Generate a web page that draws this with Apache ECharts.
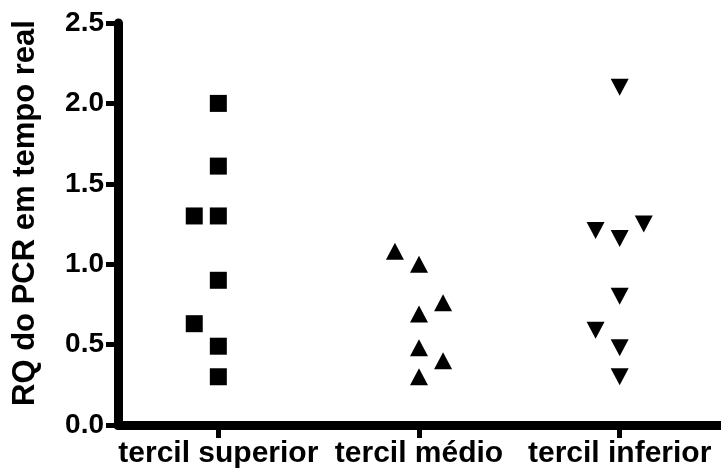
<!DOCTYPE html>
<html>
<head>
<meta charset="utf-8">
<script src="https://cdn.jsdelivr.net/npm/echarts@6/dist/echarts.min.js"></script>
<style>
  html, body { margin: 0; padding: 0; background: #fff; }
  #chart { width: 721px; height: 471px; }
</style>
</head>
<body>
<div id="chart"></div>
<script>
// Groups along the x axis (plotted at positions 1, 2, 3)
const categories = ['tercil superior', 'tercil médio', 'tercil inferior'];
const yTicks = [0.0, 0.5, 1.0, 1.5, 2.0, 2.5];

// Each point: [x position (group index + horizontal spread), RQ value]
const superior = [
  [1.00, 2.00], [1.00, 1.61], [0.88, 1.30], [1.00, 1.30],
  [1.00, 0.90], [0.88, 0.63], [1.00, 0.49], [1.00, 0.30]
];
const medio = [
  [1.88, 1.08], [2.00, 1.00], [2.12, 0.76], [2.00, 0.69],
  [2.00, 0.48], [2.12, 0.40], [2.00, 0.30]
];
const inferior = [
  [3.00, 2.10], [2.88, 1.21], [3.00, 1.16], [3.12, 1.25],
  [3.00, 0.80], [2.88, 0.59], [3.00, 0.48], [3.00, 0.30]
];

const FONT = '"Liberation Sans", Arial, sans-serif';
const chart = echarts.init(document.getElementById('chart'), null, { renderer: 'canvas' });

const black = { color: '#000', opacity: 1 };
// axis lines only show their inner half, hence the doubled width
const lineStroke = { color: '#000', width: 9, opacity: 1, type: 'solid' };
const tickStroke = { color: '#000', width: 5, opacity: 1, type: 'solid' };

chart.setOption({
  animation: false,
  backgroundColor: '#ffffff',
  grid: { left: 118, top: 23, width: 602, height: 402, containLabel: false },
  xAxis: [
    {
      // visible group axis: one band per tercile, tick at band centre
      type: 'category',
      data: categories,
      boundaryGap: true,
      splitLine: { show: false },
      axisLine: { show: true, lineStyle: lineStroke },
      axisTick: {
        show: true, length: 13, alignWithLabel: true, interval: 0,
        lineStyle: tickStroke
      },
      axisLabel: {
        interval: 0,
        color: '#000', fontFamily: FONT, fontWeight: 'bold', fontSize: 30,
        margin: 14
      }
    },
    {
      // hidden numeric axis used to place the spread points
      type: 'value',
      min: 0.5,
      max: 3.5,
      show: false
    }
  ],
  yAxis: {
    type: 'value',
    min: 0,
    max: 2.5,
    interval: 0.5,
    name: 'RQ do PCR em tempo real',
    nameLocation: 'middle',
    nameGap: 77,
    nameTextStyle: {
      color: '#000', fontFamily: FONT, fontWeight: 'bold', fontSize: 31,
      padding: [0, 0, 0, 22]
    },
    splitLine: { show: false },
    axisLine: { show: true, lineStyle: lineStroke },
    axisTick: { show: true, length: 12, lineStyle: tickStroke },
    axisLabel: {
      formatter: v => yTicks.includes(v) ? v.toFixed(1) : '',
      color: '#000', fontFamily: FONT, fontWeight: 'bold', fontSize: 28,
      margin: 14
    }
  },
  series: [
    {
      name: 'tercil superior', type: 'scatter', xAxisIndex: 1, data: superior,
      symbol: 'rect', symbolSize: 17,
      itemStyle: black
    },
    {
      name: 'tercil médio', type: 'scatter', xAxisIndex: 1, data: medio,
      symbol: 'triangle', symbolSize: [18, 17],
      itemStyle: black
    },
    {
      name: 'tercil inferior', type: 'scatter', xAxisIndex: 1, data: inferior,
      symbol: 'triangle', symbolRotate: 180, symbolSize: [18, 17],
      itemStyle: black
    }
  ]
});
</script>
</body>
</html>
